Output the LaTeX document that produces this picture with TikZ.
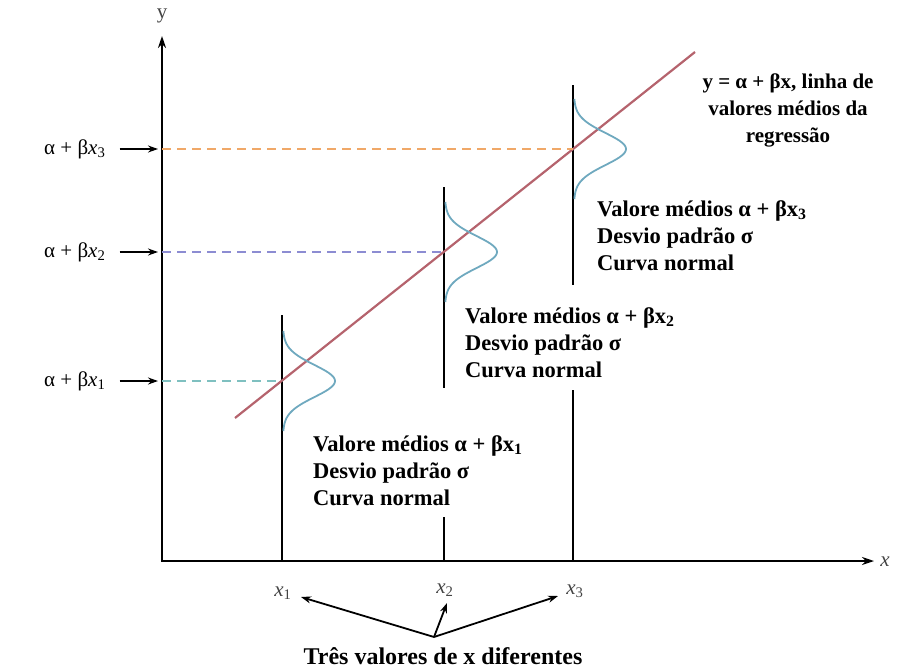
\documentclass[tikz,border=0pt]{standalone}
\usepackage{fontspec}
\setmainfont{Liberation Serif}
\usetikzlibrary{arrows.meta,positioning}
\definecolor{regline}{HTML}{B5636D}
\definecolor{normal}{HTML}{6FA9BF}
\definecolor{lvlone}{HTML}{7FC0C0}
\definecolor{lvltwo}{HTML}{8C8CD2}
\definecolor{lvlthree}{HTML}{F0A868}
\definecolor{axisgray}{HTML}{444444}
\tikzset{
  axis/.style={{Stealth[length=12pt,width=8pt]}-{Stealth[length=12pt,width=8pt]}, line width=2.6pt},
  xline/.style={line width=2.6pt},
  ptr/.style={-{Stealth[length=10pt,width=7pt]}, line width=2pt},
  lvl/.style={dash pattern=on 9pt off 6pt, line width=2.2pt},
  bell/.style={draw=normal, line width=1.8pt},
  note/.style={font=\fontsize{22.5}{27}\selectfont\bfseries, align=left, inner sep=0pt, anchor=base west},
  ylbl/.style={font=\fontsize{21}{24}\selectfont, inner sep=0pt},
  xlbl/.style={font=\fontsize{21}{24}\selectfont, text=axisgray, inner sep=0pt}
}
\begin{document}
\begin{tikzpicture}[x=1pt,y=-1pt]
  \useasboundingbox (0,0) rectangle (901,669);
  % axes
  \coordinate (O) at (162,561);
  \coordinate (ytop) at (162,36);
  \coordinate (xend) at (874,561);
  \draw[axis] (ytop) -- (O) -- (xend);
  \node[xlbl] (ylab) at (162,16) {y};
  \node[xlbl] (xlab) at (885,562) {\itshape x};

  % vertical lines at x1, x2, x3
  \coordinate (m1) at (282,381); \coordinate (m2) at (444,252); \coordinate (m3) at (573,149);
  \draw[xline] (282,315) -- (282,561);
  \draw[xline] (444,187) -- (444,388) (444,517) -- (444,561);
  \draw[xline] (573,85) -- (573,285) (573,390) -- (573,561);

  % regression line
  \coordinate (rs) at (235,418);
  \coordinate (re) at (695,52);
  \draw[regline, line width=2.2pt] (rs) -- (re);

  % mean levels
  \coordinate (a1) at (162,381); \coordinate (a2) at (162,252); \coordinate (a3) at (162,149);
  \draw[lvl, lvlone] (a1) -- (m1);
  \draw[lvl, lvltwo] (a2) -- (m2);
  \draw[lvl, lvlthree] (a3) -- (m3);

  % normal curves
  \foreach \xx/\yy in {282/381, 444/252, 573/149}
    \draw[bell] plot[domain=-50:50, samples=61, variable=\t] ({\xx+1+52*exp(-0.5*(\t/16)^2)}, {\yy+\t});

  \node[ylbl, anchor=west] (l1) at (44,381) {α + β\textit{x}\textsubscript{1}};
  \node[ylbl, anchor=west] (l2) at (44,252) {α + β\textit{x}\textsubscript{2}};
  \node[ylbl, anchor=west] (l3) at (44,149) {α + β\textit{x}\textsubscript{3}};
  \draw[ptr] ([xshift=14pt]l1.east) -- ([xshift=-4pt]a1);
  \draw[ptr] ([xshift=14pt]l2.east) -- ([xshift=-4pt]a2);
  \draw[ptr] ([xshift=14pt]l3.east) -- ([xshift=-4pt]a3);

  \node[note] (n1) at (313,505) {Valore médios α + βx\textsubscript{1}\\Desvio padrão σ\\Curva normal};
  \node[note] (n2) at (465,377) {Valore médios α + βx\textsubscript{2}\\Desvio padrão σ\\Curva normal};
  \node[note] (n3) at (597,270) {Valore médios α + βx\textsubscript{3}\\Desvio padrão σ\\Curva normal};
  \node[note, font=\fontsize{21}{27}\selectfont\bfseries, align=center, anchor=base] (reg) at (788,142) {y = α + βx, linha de\\valores médios da\\regressão};

  % the three x values
  \node[xlbl] (x1) at (283,593) {\textit{x}\textsubscript{1}};
  \node[xlbl] (x2) at (445,590) {\textit{x}\textsubscript{2}};
  \node[xlbl] (x3) at (575,591) {\textit{x}\textsubscript{3}};
  \node[font=\fontsize{24}{28}\selectfont\bfseries, inner sep=0pt, anchor=base] (three) at (443,664) {Três valores de x diferentes};
  \coordinate (hub) at (434,637);
  \coordinate (p1) at (301,597); \coordinate (p2) at (447,603); \coordinate (p3) at (558,596);
  \draw[ptr, line width=1.8pt] (hub) -- (p1);
  \draw[ptr, line width=1.8pt] (hub) -- (p2);
  \draw[ptr, line width=1.8pt] (hub) -- (p3);
\end{tikzpicture}
\end{document}
